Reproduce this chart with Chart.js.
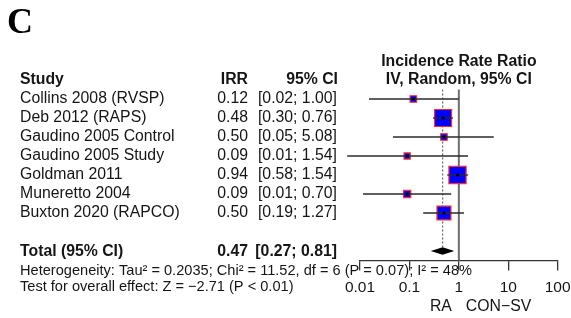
<!DOCTYPE html>
<html>
<head>
<meta charset="utf-8">
<script src="https://cdn.jsdelivr.net/npm/chart.js@4.4.1/dist/chart.umd.min.js"></script>
<style>
  html, body { margin: 0; padding: 0; background: #fff; overflow: hidden; }
</style>
</head>
<body>
<canvas id="forest" width="571" height="318"></canvas>
<script>
// study rows
const studies = [
  'Collins 2008 (RVSP)',
  'Deb 2012 (RAPS)',
  'Gaudino 2005 Control',
  'Gaudino 2005 Study',
  'Goldman 2011',
  'Muneretto 2004',
  'Buxton 2020 (RAPCO)'
];
const irr = [0.12, 0.48, 0.50, 0.09, 0.94, 0.09, 0.50];
const ciLow = [0.0152, 0.30, 0.0464, 0.0055, 0.58, 0.0115, 0.19];
const ciHigh = [1.00, 0.76, 5.08, 1.54, 1.54, 0.70, 1.27];
const weights = [4.5, 30.5, 4.5, 4.0, 31.0, 5.5, 20.5];

// pooled estimate
const totalIrr = 0.47;
const totalLow = 0.27;
const totalHigh = 0.81;

const tickValues = [0.01, 0.1, 1, 10, 100];
const hetText = 'Heterogeneity: Tau\u00b2 = 0.2035; Chi\u00b2 = 11.52, df = 6 (P = 0.07); I\u00b2 = 48%';
const testText = 'Test for overall effect: Z = \u22122.71 (P < 0.01)';

const FONT = '"Liberation Sans", Arial, sans-serif';
const INK = '#151515';

const fmt = v => v.toFixed(2);
const radii = weights.map(w => 3.08 * Math.sqrt(w) / Math.SQRT2);

const forestPlugin = {
  id: 'forest',
  beforeDatasetsDraw(chart) {
    const { ctx, chartArea, scales: { x, y } } = chart;
    ctx.save();
    // line of no effect
    ctx.strokeStyle = '#6e6e6e';
    ctx.lineWidth = 2;
    ctx.beginPath();
    ctx.moveTo(x.getPixelForValue(1), chartArea.top);
    ctx.lineTo(x.getPixelForValue(1), chartArea.bottom);
    ctx.stroke();
    // pooled estimate dotted line
    ctx.strokeStyle = '#6a6a6a';
    ctx.lineWidth = 1.3;
    ctx.setLineDash([2, 2]);
    ctx.beginPath();
    ctx.moveTo(x.getPixelForValue(totalIrr), chartArea.top);
    ctx.lineTo(x.getPixelForValue(totalIrr), y.getPixelForValue(9) - 4);
    ctx.stroke();
    ctx.restore();
  },
  afterDatasetsDraw(chart) {
    const { ctx, scales: { x, y } } = chart;
    ctx.save();
    // whiskers
    ctx.strokeStyle = '#2a2a2a';
    ctx.lineWidth = 1.3;
    studies.forEach((s, i) => {
      const py = y.getPixelForValue(i + 1);
      ctx.beginPath();
      ctx.moveTo(x.getPixelForValue(ciLow[i]), py);
      ctx.lineTo(x.getPixelForValue(ciHigh[i]), py);
      ctx.stroke();
      ctx.fillStyle = '#000';
      ctx.beginPath();
      ctx.arc(x.getPixelForValue(irr[i]), py, 1.6, 0, Math.PI * 2);
      ctx.fill();
    });
    // diamond
    const dy = y.getPixelForValue(9);
    ctx.fillStyle = '#000';
    ctx.beginPath();
    ctx.moveTo(x.getPixelForValue(totalLow), dy);
    ctx.lineTo(x.getPixelForValue(totalIrr), dy - 3.8);
    ctx.lineTo(x.getPixelForValue(totalHigh), dy);
    ctx.lineTo(x.getPixelForValue(totalIrr), dy + 3.8);
    ctx.closePath();
    ctx.fill();

    // text
    const put = (str, px, py, align, bold, size) => {
      ctx.font = (bold ? 'bold ' : '') + size + 'px ' + FONT;
      ctx.textAlign = align;
      ctx.textBaseline = 'middle';
      ctx.fillStyle = INK;
      ctx.fillText(str, px, py);
    };
    const fs = 15.8;
    put('Incidence Rate Ratio', x.getPixelForValue(1), y.getPixelForValue(-1) + 1, 'center', true, fs);
    put('IV, Random, 95% CI', x.getPixelForValue(1), y.getPixelForValue(0), 'center', true, fs);
    put('Study', 20, y.getPixelForValue(0), 'left', true, fs);
    put('IRR', 248, y.getPixelForValue(0), 'right', true, fs);
    put('95% CI', 338, y.getPixelForValue(0), 'right', true, fs);
    studies.forEach((s, i) => {
      const py = y.getPixelForValue(i + 1);
      put(s, 20, py, 'left', false, fs);
      put(fmt(irr[i]), 248, py, 'right', false, fs);
      put('[' + fmt(ciLow[i]) + '; ' + fmt(ciHigh[i]) + ']', 337, py, 'right', false, fs);
    });
    const ty = y.getPixelForValue(9) + 1;
    put('Total (95% CI)', 20, ty, 'left', true, fs);
    put(fmt(totalIrr), 248, ty, 'right', true, fs);
    put('[' + fmt(totalLow) + '; ' + fmt(totalHigh) + ']', 337, ty, 'right', true, fs);
    put(hetText, 20, 271, 'left', false, 14.6);
    put(testText, 20, 287, 'left', false, 14.6);
    put('RA', x.getPixelForValue(1) - 7, 307, 'right', false, fs);
    put('CON\u2212SV', x.getPixelForValue(1) + 7, 307, 'left', false, fs);

    // panel letter
    ctx.font = 'bold 36px "Liberation Serif", "Times New Roman", serif';
    ctx.textAlign = 'left';
    ctx.textBaseline = 'alphabetic';
    ctx.fillStyle = '#000';
    ctx.fillText('C', 7, 33);
    ctx.restore();
  }
};

const ctx = document.getElementById('forest').getContext('2d');
new Chart(ctx, {
  type: 'scatter',
  data: {
    datasets: [{
      data: irr.map((v, i) => ({ x: v, y: i + 1 })),
      pointStyle: 'rect',
      pointRadius: radii,
      backgroundColor: '#0000ff',
      borderColor: '#ff2a2a',
      borderWidth: 1.2,
      clip: false
    }]
  },
  options: {
    responsive: false,
    animation: false,
    events: [],
    layout: { padding: { left: 360, right: 13, top: 89.5, bottom: 0 } },
    plugins: { legend: { display: false }, tooltip: { enabled: false } },
    scales: {
      x: {
        type: 'logarithmic',
        min: 0.01,
        max: 100,
        afterBuildTicks: axis => { axis.ticks = tickValues.map(v => ({ value: v })); },
        afterFit: axis => { axis.height = 57.5; axis.paddingLeft = 0; axis.paddingRight = 0; },
        ticks: {
          autoSkip: false,
          maxRotation: 0,
          padding: 8,
          color: INK,
          font: { family: FONT, size: 15.5 },
          callback: v => String(v)
        },
        grid: { drawOnChartArea: false, drawTicks: true, tickLength: 10, color: '#333', lineWidth: 1.3 },
        border: { display: true, color: '#333', width: 1.3 }
      },
      y: {
        type: 'linear',
        display: false,
        reverse: true,
        min: 0.5,
        max: 9.5
      }
    }
  },
  plugins: [forestPlugin]
});
</script>
</body>
</html>
